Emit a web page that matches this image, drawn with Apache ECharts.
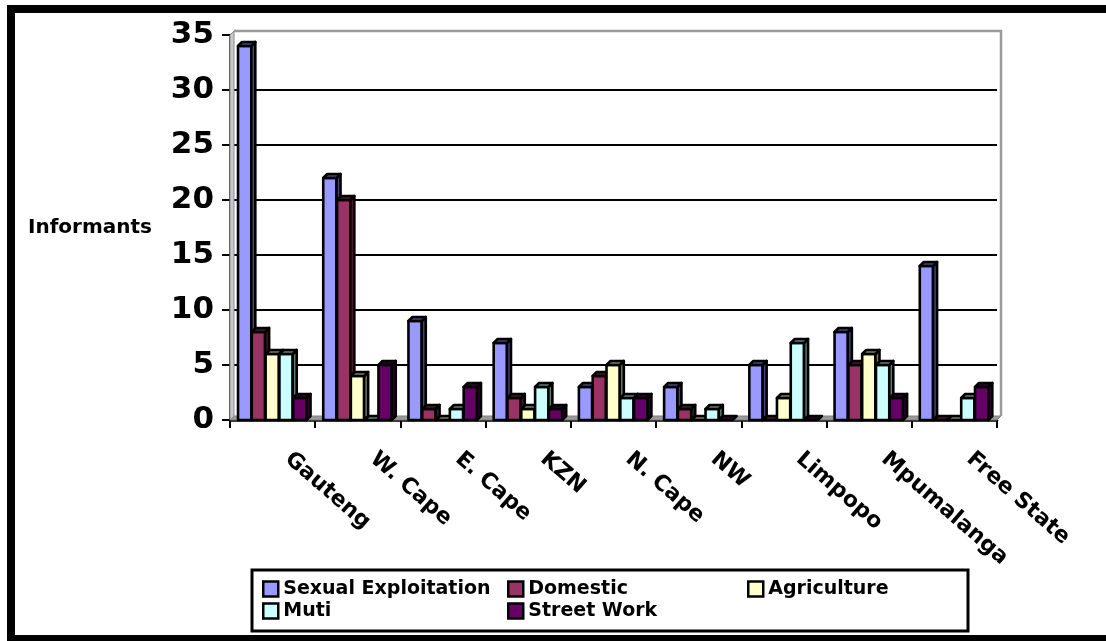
<!DOCTYPE html>
<html>
<head>
<meta charset="utf-8">
<title>Informants by province and form of exploitation</title>
<script src="https://cdn.jsdelivr.net/npm/echarts@6/dist/echarts.min.js"></script>
<style>
  html, body { margin: 0; padding: 0; background: #fff; }
  #chart { width: 1106px; height: 641px; }
</style>
</head>
<body>
<div id="chart"></div>
<script>
// Provinces along the category axis
const provinces = ['Gauteng', 'W. Cape', 'E. Cape', 'KZN', 'N. Cape', 'NW', 'Limpopo', 'Mpumalanga', 'Free State'];

// Number of informants per form of exploitation, one value per province
const sexualExploitation = [34, 22, 9, 7, 3, 3, 5, 8, 14];
const domestic           = [8, 20, 1, 2, 4, 1, 0, 5, 0];
const agriculture        = [6, 4, 0, 1, 5, 0, 2, 6, 0];
const muti               = [6, 0, 1, 3, 2, 1, 7, 5, 2];
const streetWork         = [2, 5, 3, 1, 2, 0, 0, 2, 3];

// Value axis ticks
const yTicks = [0, 5, 10, 15, 20, 25, 30, 35];

const seriesDefs = [
  { name: 'Sexual Exploitation', data: sexualExploitation, color: '#9999FF', shade: '#45457a' },
  { name: 'Domestic',            data: domestic,           color: '#993366', shade: '#4a1630' },
  { name: 'Agriculture',         data: agriculture,        color: '#FFFFCC', shade: '#7d7d60' },
  { name: 'Muti',                data: muti,               color: '#CCFFFF', shade: '#5f7f7f' },
  { name: 'Street Work',         data: streetWork,         color: '#660066', shade: '#2e002e' }
];

const DEPTH = 4;          // pseudo-3D depth offset in px
const FONT = 'DejaVu Sans';

// Draws one pseudo-3D column: front face, top face and right side face
function columnRenderer(slot, color, shade) {
  return function (params, api) {
    const cat = api.value(0);
    const val = api.value(1);
    const base = api.coord([cat, 0]);
    const top = api.coord([cat, val]);
    const band = api.size([1, 0])[0];
    const x0 = base[0] - band / 2 + band * (0.094 + slot * 0.162);
    const w = band * 0.156;
    const yb = base[1];
    const yt = top[1];
    const d = DEPTH;
    const stroke = { stroke: '#000', lineWidth: 2.6, lineJoin: 'round' };
    const children = [];
    if (yb - yt > 0.5) {
      children.push({
        type: 'rect',
        shape: { x: x0, y: yt, width: w, height: yb - yt },
        style: Object.assign({ fill: color }, stroke)
      });
      children.push({
        type: 'polygon',
        shape: { points: [[x0 + w, yt], [x0 + w + d, yt - d], [x0 + w + d, yb - d], [x0 + w, yb]] },
        style: Object.assign({ fill: shade }, stroke)
      });
    }
    children.push({
      type: 'polygon',
      shape: { points: [[x0, yt], [x0 + d, yt - d], [x0 + w + d, yt - d], [x0 + w, yt]] },
      style: Object.assign({ fill: shade }, stroke)
    });
    return { type: 'group', children: children };
  };
}

// Floor, side wall and back wall outline of the plot box
function backdropRenderer(params, api) {
  const cs = params.coordSys;
  const d = DEPTH;
  const x0 = cs.x, x1 = cs.x + cs.width;
  const yt = cs.y, yb = cs.y + cs.height;
  return {
    type: 'group',
    children: [
      {
        type: 'polygon',
        shape: { points: [[x0, yb], [x0 + d, yb - d], [x1 + d, yb - d], [x1, yb]] },
        style: { fill: '#9a9a9a', stroke: '#808080', lineWidth: 1 }
      },
      {
        type: 'polygon',
        shape: { points: [[x0, yb], [x0, yt], [x0 + d, yt - d], [x0 + d, yb - d]] },
        style: { fill: '#c8c8c8', stroke: '#8c8c8c', lineWidth: 1 }
      },
      {
        type: 'polyline',
        shape: { points: [[x0 + d, yt - d], [x1 + d, yt - d], [x1 + d, yb - d]] },
        style: { fill: null, stroke: '#9a9a9a', lineWidth: 2.5 }
      }
    ]
  };
}

const chart = echarts.init(document.getElementById('chart'), null, { renderer: 'canvas' });

const series = [{
  type: 'custom',
  name: 'backdrop',
  silent: true,
  z: 1,
  clip: false,
  data: [[0, 0]],
  renderItem: backdropRenderer
}];
seriesDefs.forEach(function (s, i) {
  series.push({
    type: 'custom',
    name: s.name,
    z: 2,
    clip: false,
    itemStyle: { color: s.color },
    data: s.data.map(function (v, c) { return [c, v]; }),
    encode: { x: 0, y: 1 },
    renderItem: columnRenderer(i, s.color, s.shade)
  });
});

const legendText = { fontFamily: FONT, fontWeight: 'bold', fontSize: 19, color: '#000', lineHeight: 22 };
const legendBase = {
  orient: 'vertical',
  top: 578,
  padding: 0,
  icon: 'rect',
  itemWidth: 15,
  itemHeight: 15,
  itemGap: 0,
  selectedMode: false,
  itemStyle: { borderColor: '#000', borderWidth: 2.5 },
  textStyle: legendText
};

chart.setOption({
  animation: false,
  backgroundColor: '#ffffff',
  grid: { left: 230, right: 109, top: 35, bottom: 221 },
  xAxis: {
    type: 'category',
    data: provinces,
    boundaryGap: true,
    axisLine: { show: true, lineStyle: { color: '#000', width: 2.5 } },
    axisTick: { show: true, inside: false, length: 8, alignWithLabel: false, lineStyle: { color: '#000', width: 2 } },
    axisLabel: {
      interval: 0,
      rotate: -41,
      margin: 23,
      padding: [0, 0, 0, 20],
      fontFamily: FONT,
      fontWeight: 'bold',
      fontSize: 22,
      color: '#000'
    },
    splitLine: { show: false }
  },
  yAxis: {
    type: 'value',
    min: yTicks[0],
    max: yTicks[yTicks.length - 1],
    interval: yTicks[1] - yTicks[0],
    name: 'Informants',
    nameLocation: 'middle',
    nameRotate: 0,
    nameGap: 78,
    nameTextStyle: { fontFamily: FONT, fontWeight: 'bold', fontSize: 20, color: '#000' },
    axisLine: { show: true, lineStyle: { color: '#000', width: 2.5 } },
    axisTick: { show: true, inside: false, length: 8, lineStyle: { color: '#000', width: 2 } },
    axisLabel: {
      margin: 16,
      fontFamily: FONT,
      fontWeight: 'bold',
      fontSize: 31,
      color: '#000'
    },
    splitLine: {
      show: true,
      lineStyle: {
        color: ['transparent', '#000', '#000', '#000', '#000', '#000', '#000', 'transparent'],
        width: 2
      }
    }
  },
  legend: [
    Object.assign({}, legendBase, { left: 262, data: ['Sexual Exploitation', 'Muti'] }),
    Object.assign({}, legendBase, { left: 507, data: ['Domestic', 'Street Work'] }),
    Object.assign({}, legendBase, { left: 747, data: ['Agriculture'] })
  ],
  graphic: [
    {
      type: 'rect',
      silent: true,
      z: 100,
      shape: { x: 11, y: 9, width: 1104, height: 630 },
      style: { fill: null, stroke: '#000', lineWidth: 8 }
    },
    {
      type: 'rect',
      silent: true,
      z: 0,
      shape: { x: 252, y: 570, width: 716, height: 61 },
      style: { fill: null, stroke: '#000', lineWidth: 3 }
    }
  ],
  series: series
});
</script>
</body>
</html>
